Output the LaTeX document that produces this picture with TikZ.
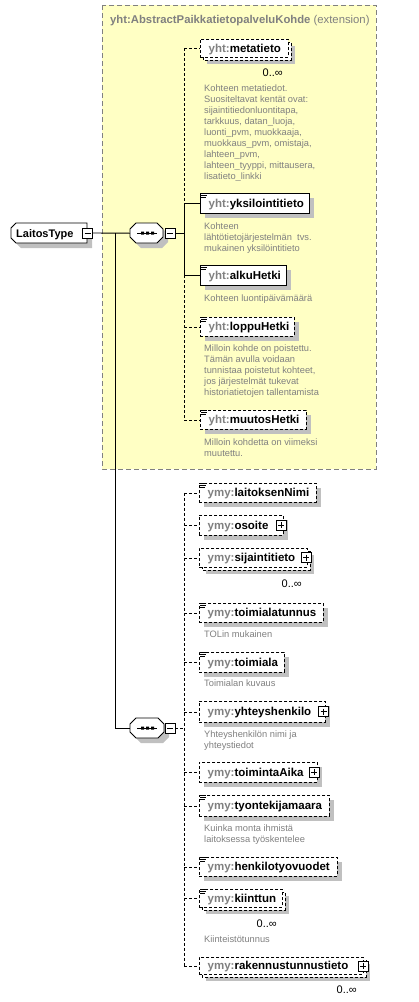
\documentclass[tikz,border=0pt]{standalone}
\usepackage{fontspec}
\setmainfont{Liberation Sans}
\definecolor{yel}{RGB}{255,255,196}
\definecolor{shd}{RGB}{192,192,192}
\definecolor{pfx}{RGB}{128,128,128}
\definecolor{ann}{RGB}{128,128,128}
\definecolor{frame}{RGB}{128,128,128}
\tikzset{
  elbox/.style={draw=black, fill=white, line width=0.9pt, inner sep=0, anchor=north west},
  dsh/.style={dash pattern=on 3pt off 2pt},
  eltext/.style={inner sep=0, anchor=base west, font=\fontsize{11.5}{13}\selectfont\bfseries},
  anntext/.style={inner sep=0, anchor=base west, align=left, text=ann, font=\fontsize{9.3}{11}\selectfont},
  occ/.style={inner sep=0, anchor=base east, font=\fontsize{11}{13}\selectfont},
  pmbox/.style={draw=black, fill=white, line width=0.8pt, minimum size=10pt, inner sep=0},
  plusbox/.style={pmbox, path picture={\draw[line width=0.8pt] ([xshift=2pt]path picture bounding box.west) -- ([xshift=-2pt]path picture bounding box.east) ([yshift=-2pt]path picture bounding box.north) -- ([yshift=2pt]path picture bounding box.south);}},
  minusbox/.style={pmbox, path picture={\draw[line width=0.8pt] ([xshift=2pt]path picture bounding box.west) -- ([xshift=-2pt]path picture bounding box.east);}},
  conn/.style={line width=0.9pt},
  anchorbox/.style={inner sep=0, anchor=north west},
}
\newcommand{\xshd}[4]{\fill[shd] (#1,#2) rectangle (#3,#4);}
\newcommand{\xback}[5]{\draw[elbox,#5] (#1,#2) rectangle (#3,#4);}
\newcommand{\xel}[8]{%
  \node[elbox,#6,minimum width={#4-#2},minimum height={#5-#3}] (#1) at (#2,#3) {};
  \node[eltext] (#1-t) at ({#2+8.5},{(#3+#5)/2+4}) {\textcolor{pfx}{#7:}#8};
}
\newcommand{\xicon}[1]{\draw[line width=0.8pt] ([shift={(1,0.5)}]#1.north west) -- ++(6,0) ([shift={(1,2.5)}]#1.north west) -- ++(6,0) ([shift={(1,4.5)}]#1.north west) -- ++(5,0);}
\begin{document}
\begin{tikzpicture}[x=1pt,y=-1pt]
\useasboundingbox (0,0) rectangle (418,1002);
\fill[white] (0,0) rectangle (418,1002);
% extension frame
\draw[fill=yel, draw=frame, line width=0.9pt, dash pattern=on 5pt off 3pt] (102,5) rectangle (376,469);
\node[inner sep=0, anchor=base west, text=frame, font=\fontsize{11.3}{13}\selectfont] (ext) at (110,23) {\textbf{yht:AbstractPaikkatietopalveluKohde} (extension)};

% LaitosType
\fill[shd] (21,228) -- (92,228) -- (92,248) -- (21,248) -- (16,243) -- (16,233) -- cycle;
\draw[fill=white, line width=0.9pt] (16,223) -- (87,223) -- (87,243) -- (16,243) -- (11,238) -- (11,228) -- cycle;
\node[anchorbox, minimum width=76, minimum height=20] (laitos) at (11,223) {};
\node[inner sep=0, anchor=base west, font=\fontsize{11}{13}\selectfont\bfseries] (laitos-t) at (16,237.5) {LaitosType};
\node[minusbox] (laitos-m) at (87.5,233) {};

% sequence 1
\fill[shd] (141,228) -- (162,228) -- (168,234) -- (168,242) -- (162,248) -- (141,248) -- (135,242) -- (135,234) -- cycle;
\draw[fill=white, line width=0.9pt] (136,223) -- (157,223) -- (163,229) -- (163,237) -- (157,243) -- (136,243) -- (130,237) -- (130,229) -- cycle;
\node[anchorbox, minimum width=33, minimum height=20] (seq1) at (130,223) {};
\draw[line width=0.9pt] (137,233) -- (157,233);
\fill (141,231.5) rectangle (144,234.5) (146,231.5) rectangle (149,234.5) (151,231.5) rectangle (154,234.5);
\node[minusbox] (seq1-m) at (170,233) {};

% sequence 2
\fill[shd] (141,723) -- (163,723) -- (169,729) -- (169,737) -- (163,743) -- (141,743) -- (135,737) -- (135,729) -- cycle;
\draw[fill=white, line width=0.9pt] (136,718) -- (158,718) -- (164,724) -- (164,732) -- (158,738) -- (136,738) -- (130,732) -- (130,724) -- cycle;
\node[anchorbox, minimum width=34, minimum height=20] (seq2) at (130,718) {};
\draw[line width=0.9pt] (137,728) -- (157,728);
\fill (141,726.5) rectangle (144,729.5) (146,726.5) rectangle (149,729.5) (151,726.5) rectangle (154,729.5);
\node[minusbox] (seq2-m) at (170,728) {};

% ---------- top group ----------
\xshd{207}{46}{295}{64}
\xback{203}{42}{291}{60}{dsh}
\xel{metatieto}{200}{39}{288}{57}{dsh}{yht}{metatieto}
\node[occ] (metatieto-o) at (283,76) {0..∞};
\node[anntext] (metatieto-d) at (204,179) {Kohteen metatiedot.\\Suositeltavat kentät ovat:\\sijaintitiedonluontitapa,\\tarkkuus, datan\_luoja,\\luonti\_pvm, muokkaaja,\\muokkaus\_pvm, omistaja,\\lahteen\_pvm,\\lahteen\_tyyppi, mittausera,\\lisatieto\_linkki};

\xshd{205}{198}{314}{218}
\xel{yksilointitieto}{200}{193}{309}{213}{}{yht}{yksilointitieto}
\xicon{yksilointitieto}
\node[anntext] (yksilointitieto-d) at (204,251) {Kohteen\\lähtötietojärjestelmän\ \ tvs.\\mukainen yksilöintitieto};

\xshd{205}{270}{291}{290}
\xel{alkuHetki}{200}{265}{286}{285}{}{yht}{alkuHetki}
\xicon{alkuHetki}
\node[anntext] (alkuHetki-d) at (204,301) {Kohteen luontipäivämäärä};

\xshd{205}{322}{299}{341}
\xel{loppuHetki}{200}{317}{294}{336}{dsh}{yht}{loppuHetki}
\xicon{loppuHetki}
\node[anntext] (loppuHetki-d) at (204,395) {Milloin kohde on poistettu.\\Tämän avulla voidaan\\tunnistaa poistetut kohteet,\\jos järjestelmät tukevat\\historiatietojen tallentamista};

\xshd{205}{415}{311}{434}
\xel{muutosHetki}{200}{410}{306}{429}{dsh}{yht}{muutosHetki}
\xicon{muutosHetki}
\node[anntext] (muutosHetki-d) at (204,456) {Milloin kohdetta on viimeksi\\muutettu.};

% ---------- bottom group ----------
\xshd{204}{488}{321}{507}
\xel{laitoksenNimi}{199}{483}{316}{502}{dsh}{ymy}{laitoksenNimi}
\xicon{laitoksenNimi}

\xshd{204}{520}{288}{540}
\xel{osoite}{199}{515}{283}{535}{dsh}{ymy}{osoite}
\node[plusbox] (osoite-p) at (281,525) {};

\xshd{206}{555}{314}{574}
\xback{202}{551}{310}{570}{dsh}
\xel{sijaintitieto}{199}{548}{307}{567}{dsh}{ymy}{sijaintitieto}
\node[plusbox] (sijaintitieto-p) at (306,557.5) {};
\node[occ] (sijaintitieto-o) at (302,587) {0..∞};

\xshd{204}{608}{328}{627}
\xel{toimialatunnus}{199}{603}{323}{622}{dsh}{ymy}{toimialatunnus}
\xicon{toimialatunnus}
\node[anntext] (toimialatunnus-d) at (204,637) {TOLin mukainen};

\xshd{204}{657}{289}{677}
\xel{toimiala}{199}{652}{284}{672}{dsh}{ymy}{toimiala}
\xicon{toimiala}
\node[anntext] (toimiala-d) at (204,686) {Toimialan kuvaus};

\xshd{204}{706}{330}{727}
\xel{yhteyshenkilo}{199}{701}{325}{722}{dsh}{ymy}{yhteyshenkilo}
\node[plusbox] (yhteyshenkilo-p) at (323.5,711.5) {};
\node[anntext] (yhteyshenkilo-d) at (204,748) {Yhteyshenkilön nimi ja\\yhteystiedot};

\xshd{204}{767}{322}{787}
\xel{toimintaAika}{199}{762}{317}{782}{dsh}{ymy}{toimintaAika}
\node[plusbox] (toimintaAika-p) at (314,772) {};

\xshd{204}{800}{334}{821}
\xel{tyontekijamaara}{199}{795}{329}{816}{dsh}{ymy}{tyontekijamaara}
\xicon{tyontekijamaara}
\node[anntext] (tyontekijamaara-d) at (204,842) {Kuinka monta ihmistä\\laitoksessa työskentelee};

\xshd{204}{862}{342}{881}
\xel{henkilotyovuodet}{199}{857}{337}{876}{dsh}{ymy}{henkilotyovuodet}
\xicon{henkilotyovuodet}

\xshd{206}{896}{289}{914}
\xback{202}{892}{285}{910}{dsh}
\xel{kiinttun}{199}{889}{282}{907}{dsh}{ymy}{kiinttun}
\xicon{kiinttun}
\node[occ] (kiinttun-o) at (277,927) {0..∞};
\node[anntext] (kiinttun-d) at (204,942) {Kiinteistötunnus};

\xshd{206}{964}{370}{981}
\xback{202}{960}{366}{977}{dsh}
\xel{rakennustunnustieto}{199}{957}{363}{974}{dsh}{ymy}{rakennustunnustieto}
\node[plusbox] (rakennustunnustieto-p) at (363,966) {};
\node[occ] (rakennustunnustieto-o) at (357,993) {0..∞};

% ---------- connectors ----------
\coordinate (jA) at (184,233);
\coordinate (jL) at (115,233);
\coordinate (jB) at (184,728);
\draw[conn] (laitos-m.east) -- (seq1.west);
\draw[conn] (seq1-m.east) -- (jA);
\draw[conn] (jL) |- (seq2.west);
\draw[conn,dsh] (seq2-m.east) -- (jB);

\draw[conn,dsh] (metatieto.west -| jA) -- (yksilointitieto.west -| jA);
\draw[conn] (yksilointitieto.west -| jA) -- (alkuHetki.west -| jA);
\draw[conn,dsh] (alkuHetki.west -| jA) -- (muutosHetki.west -| jA);
\draw[conn,dsh] (metatieto.west -| jA) -- (metatieto.west);
\draw[conn] (yksilointitieto.west -| jA) -- (yksilointitieto.west);
\draw[conn] (alkuHetki.west -| jA) -- (alkuHetki.west);
\draw[conn,dsh] (loppuHetki.west -| jA) -- (loppuHetki.west);
\draw[conn,dsh] (muutosHetki.west -| jA) -- (muutosHetki.west);

\draw[conn,dsh] (laitoksenNimi.west -| jB) -- (rakennustunnustieto.west -| jB);
\foreach \n in {laitoksenNimi,osoite,sijaintitieto,toimialatunnus,toimiala,yhteyshenkilo,toimintaAika,tyontekijamaara,henkilotyovuodet,kiinttun,rakennustunnustieto}
  \draw[conn,dsh] (\n.west -| jB) -- (\n.west);
\end{tikzpicture}
\end{document}
